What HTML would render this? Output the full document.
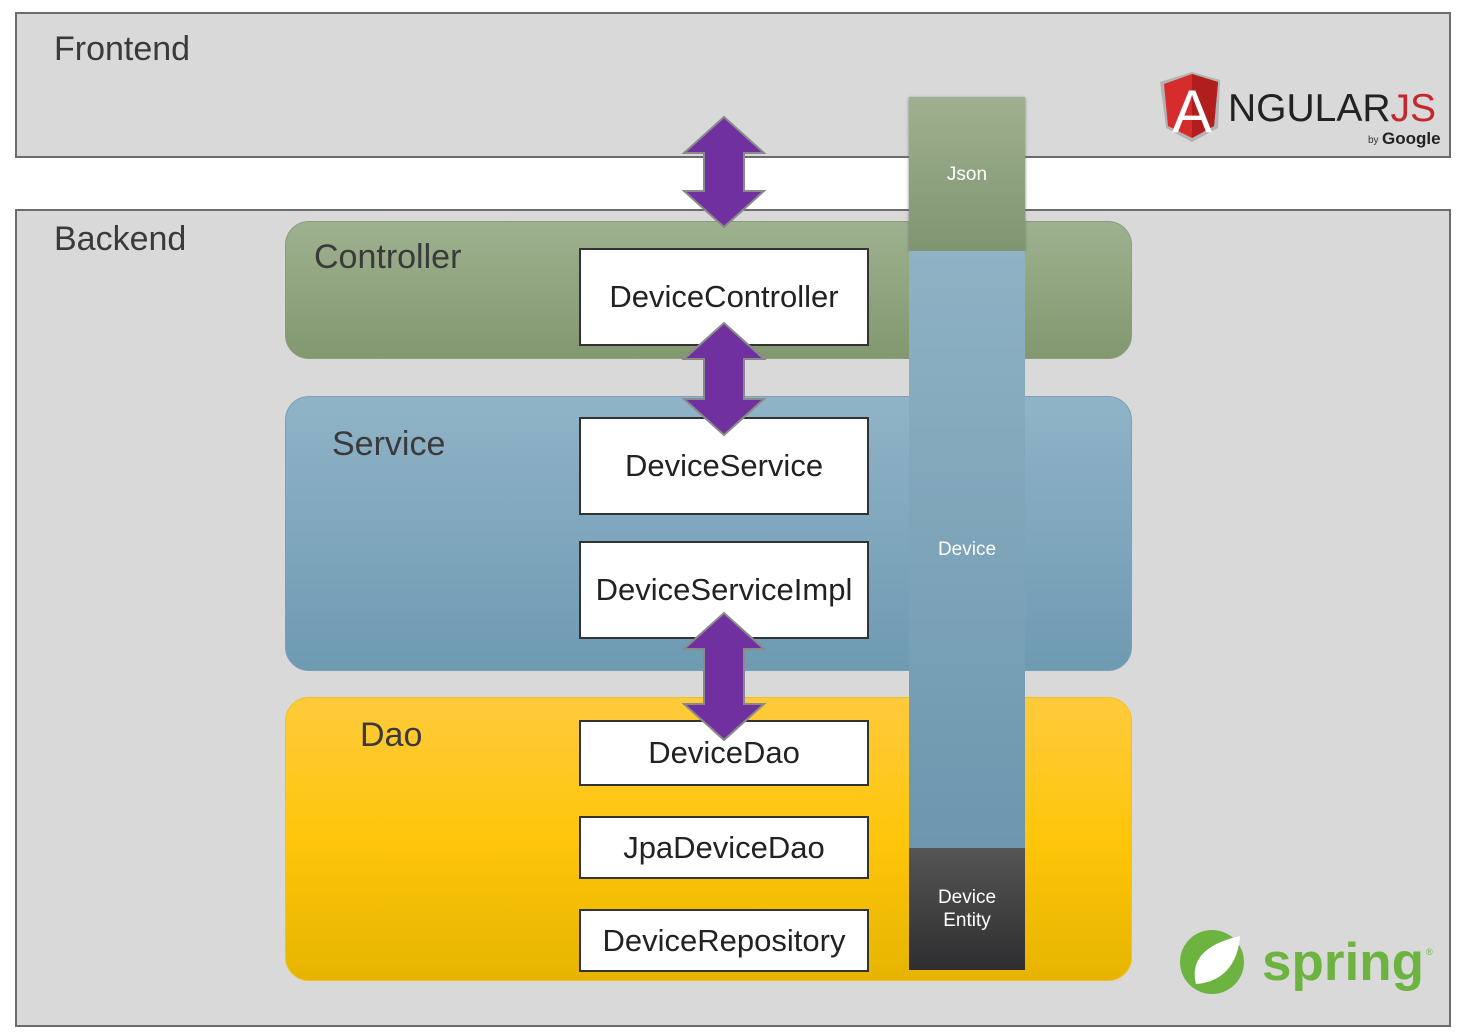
<!DOCTYPE html>
<html><head><style>
body{margin:0;width:1462px;height:1036px;background:#fff;position:relative;overflow:hidden;font-family:"Liberation Sans",sans-serif}
.a{position:absolute;box-sizing:border-box}
.big{background:#d9d9d9;border:2px solid #6b6b70}
.lbl{position:absolute;font-size:34px;color:#3a3a3a}
.layer{border-radius:24px}
.wb{background:#fff;border:2px solid #333;display:flex;align-items:center;justify-content:center;font-size:31px;color:#222}
.col{display:flex;align-items:center;justify-content:center;color:#fff;font-size:19px;text-align:center;line-height:23px}
</style></head><body>
<div class="a big" style="left:15px;top:12px;width:1436px;height:146px"></div>
<div class="lbl" style="left:54px;top:30px">Frontend</div>
<div class="a big" style="left:15px;top:209px;width:1436px;height:818px"></div>
<div class="lbl" style="left:54px;top:220px">Backend</div>

<div class="a layer" style="left:285px;top:221px;width:847px;height:138px;background:linear-gradient(#9eb190,#82986f);border:1px solid #8a9c7e"></div>
<div class="lbl" style="left:314px;top:238px">Controller</div>
<div class="a layer" style="left:285px;top:396px;width:847px;height:275px;background:linear-gradient(#90b3c7,#6e9ab2);border:1px solid #7aa0b6"></div>
<div class="lbl" style="left:332px;top:425px">Service</div>
<div class="a layer" style="left:285px;top:697px;width:847px;height:284px;background:linear-gradient(#ffca3c,#ffc60a 50%,#e6b400);border:1px solid #f2c020"></div>
<div class="lbl" style="left:360px;top:716px">Dao</div>

<div class="a wb" style="left:579px;top:248px;width:290px;height:98px">DeviceController</div>
<div class="a wb" style="left:579px;top:417px;width:290px;height:98px">DeviceService</div>
<div class="a wb" style="left:579px;top:541px;width:290px;height:98px">DeviceServiceImpl</div>
<div class="a wb" style="left:579px;top:720px;width:290px;height:66px">DeviceDao</div>
<div class="a wb" style="left:579px;top:816px;width:290px;height:63px">JpaDeviceDao</div>
<div class="a wb" style="left:579px;top:909px;width:290px;height:63px">DeviceRepository</div>

<div class="a col" style="left:909px;top:97px;width:116px;height:154px;background:linear-gradient(#a0b08f,#7f9571);box-shadow:0 1px 3px #777">Json</div>
<div class="a col" style="left:909px;top:251px;width:116px;height:597px;background:linear-gradient(#8fb1c4,#6c97ae)">Device</div>
<div class="a col" style="left:909px;top:848px;width:116px;height:122px;background:linear-gradient(#555,#2e2e30)">Device<br>Entity</div>

<svg class="a" style="left:0;top:0" width="1462" height="1036">
<g fill="#7030a0" stroke="#8a8a8a" stroke-width="2">
<polygon points="724,117 764,153 744,153 744,191 764,191 724,227 684,191 704,191 704,153 684,153"/>
<polygon points="724,323 764,359 744,359 744,399 764,399 724,435 684,399 704,399 704,359 684,359"/>
<polygon points="724,613 764,649 744,649 744,704 764,704 724,740 684,704 704,704 704,649 684,649"/>
</g>
<polygon points="1192,72 1220,80 1218,128 1192,142 1166,128 1160,82" fill="#b3b3b3"/>
<polygon points="1192,74 1218,82 1214,126 1192,138 1168,126 1164,84" fill="#d62c2c"/>
<polygon points="1192,74 1218,82 1214,126 1192,138" fill="#b01e1e"/>
<text x="1192" y="132" font-size="60" fill="#fff" text-anchor="middle" font-family="Liberation Sans">A</text>
<text x="1228" y="121" font-size="39" fill="#222" font-family="Liberation Sans">NGULAR<tspan fill="#c4272d">JS</tspan></text>
<text x="1368" y="143" font-size="10" fill="#333">by</text>
<text x="1382" y="144" font-size="17" fill="#222" font-weight="bold">Google</text>
<circle cx="1212" cy="962" r="32" fill="#6db33f"/>
<path d="M1196,984 C1190,960 1205,944 1240,936 C1238,965 1222,982 1196,984Z" fill="#fff"/>
<text x="1262" y="980" font-size="53" fill="#6db33f" font-weight="bold" font-family="Liberation Sans">spring</text>
<text x="1426" y="955" font-size="9" fill="#6db33f">®</text>
</svg>
</body></html>
